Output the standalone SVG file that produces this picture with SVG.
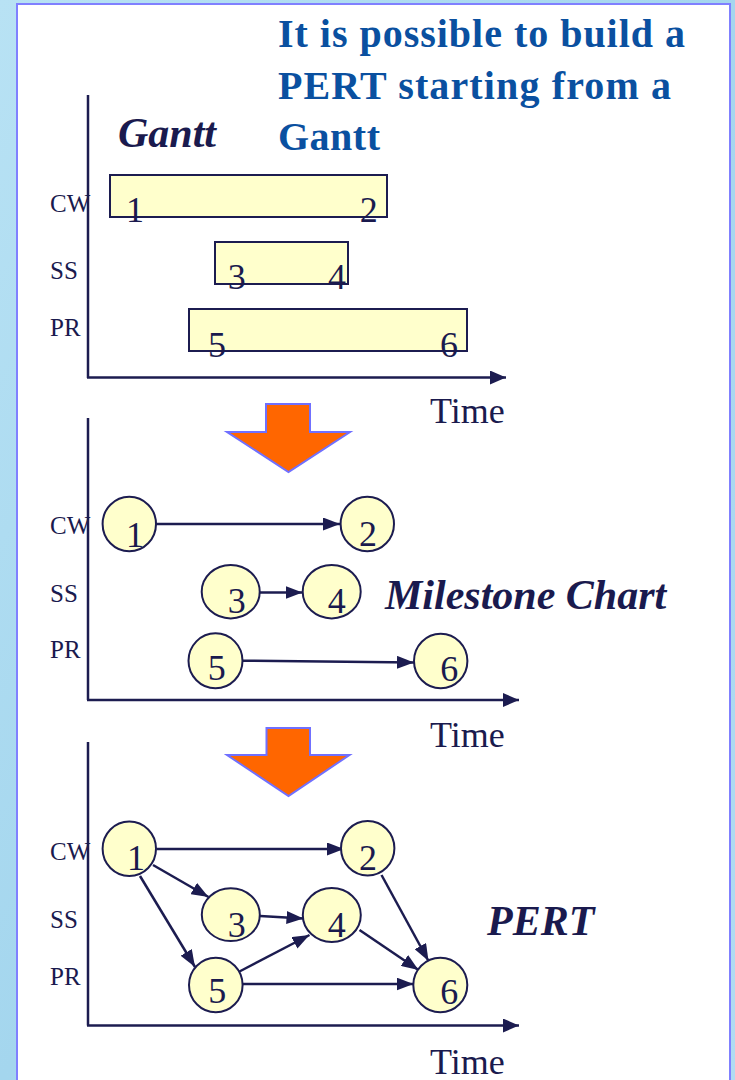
<svg xmlns="http://www.w3.org/2000/svg" width="735" height="1080" viewBox="0 0 735 1080">
<style>
.ax{stroke:#1c1c50;stroke-width:2.5;fill:none}
.cn{stroke:#1c1c50;stroke-width:2.5;fill:none}
.bar{fill:#ffffcc;stroke:#1c1c50;stroke-width:2}
.nd{fill:#ffffcc;stroke:#1c1c50;stroke-width:2}
.num{font-family:"Liberation Serif","Times New Roman",serif;font-size:36px;fill:#1a1a4e;text-anchor:middle}
.lane{font-family:"Liberation Serif","Times New Roman",serif;font-size:25px;fill:#1a1a4e}
.time{font-family:"Liberation Serif","Times New Roman",serif;font-size:36px;fill:#1a1a4e}
.lbl{font-family:"Liberation Serif","Times New Roman",serif;font-size:42px;font-weight:bold;font-style:italic;fill:#1a1a4e}
.title{font-family:"Liberation Serif","Times New Roman",serif;font-size:40px;font-weight:bold;fill:#0a50a0}
.big{fill:#ff6600;stroke:#7070ff;stroke-width:2}
</style>
<defs>
<linearGradient id="bg" x1="0" y1="0" x2="1" y2="1">
<stop offset="0" stop-color="#b8e2f4"/>
<stop offset="0.5" stop-color="#a4d6ee"/>
<stop offset="1" stop-color="#b0dcf2"/>
</linearGradient>
<marker id="ah" markerUnits="userSpaceOnUse" markerWidth="17" markerHeight="13" refX="17" refY="6.5" orient="auto">
<path d="M0,0 L17,6.5 L0,13 z" fill="#1c1c50"/>
</marker>
<marker id="axh" markerUnits="userSpaceOnUse" markerWidth="16" markerHeight="14" refX="16" refY="7" orient="auto">
<path d="M0,0 L16,7 L0,14 z" fill="#1c1c50"/>
</marker>
</defs>
<rect x="0" y="0" width="735" height="1080" fill="url(#bg)"/>
<rect x="17" y="4" width="713" height="1090" fill="#ffffff" stroke="#8080ff" stroke-width="2"/>

<g id="title">
<text class="title" x="278" y="47" textLength="407" lengthAdjust="spacing">It is possible to build a</text>
<text class="title" x="278" y="99" textLength="393" lengthAdjust="spacing">PERT starting from a</text>
<text class="title" x="278" y="150" textLength="102" lengthAdjust="spacing">Gantt</text>
</g>

<!-- Gantt section -->
<g id="gantt-axes">
<line class="ax" x1="88" y1="95" x2="88" y2="378"/>
<line class="ax" x1="87" y1="377.5" x2="506" y2="377.5" marker-end="url(#axh)"/>
<text class="time" x="430" y="423">Time</text>
<text class="lbl" x="118" y="147">Gantt</text>
<text class="lane" x="50" y="212">CW</text>
<text class="lane" x="50" y="279">SS</text>
<text class="lane" x="50" y="336">PR</text>
</g>
<g id="bar-cw">
<rect class="bar" x="110" y="175" width="277" height="42"/>
<text class="num" x="135" y="222">1</text>
<text class="num" x="368.7" y="222">2</text>
</g>
<g id="bar-ss">
<rect class="bar" x="215" y="242" width="133" height="42"/>
<text class="num" x="236.7" y="289">3</text>
<text class="num" x="337" y="289">4</text>
</g>
<g id="bar-pr">
<rect class="bar" x="189" y="309" width="278" height="42"/>
<text class="num" x="217" y="356.5">5</text>
<text class="num" x="449" y="356.5">6</text>
</g>

<g id="down-arrow-1">
<path class="big" d="M266,404 L310,404 L310,432 L350,432 L288.5,472 L227,432 L266,432 Z"/>
</g>

<!-- Milestone section -->
<g id="milestone-axes">
<line class="ax" x1="88" y1="418" x2="88" y2="700"/>
<line class="ax" x1="87" y1="700" x2="519" y2="700" marker-end="url(#axh)"/>
<text class="time" x="430" y="747">Time</text>
<text class="lbl" x="385" y="609">Milestone Chart</text>
<text class="lane" x="50" y="534">CW</text>
<text class="lane" x="50" y="602">SS</text>
<text class="lane" x="50" y="658">PR</text>
</g>
<g id="m-connectors">
<line class="cn" x1="156" y1="524" x2="340" y2="524" marker-end="url(#ah)"/>
<line class="cn" x1="260" y1="592.5" x2="302.5" y2="592.5" marker-end="url(#ah)"/>
<line class="cn" x1="242.5" y1="660.7" x2="414" y2="662.5" marker-end="url(#ah)"/>
</g>
<g id="m-node-1"><ellipse class="nd" cx="129.3" cy="524" rx="26.7" ry="27.3"/><text class="num" x="135" y="546.5">1</text></g>
<g id="m-node-2"><ellipse class="nd" cx="367.3" cy="524" rx="26.7" ry="27.3"/><text class="num" x="368" y="546">2</text></g>
<g id="m-node-3"><ellipse class="nd" cx="230.7" cy="591.7" rx="29" ry="26.7"/><text class="num" x="236.7" y="612.7">3</text></g>
<g id="m-node-4"><ellipse class="nd" cx="331.7" cy="591.7" rx="29" ry="26.7"/><text class="num" x="336.7" y="612.7">4</text></g>
<g id="m-node-5"><ellipse class="nd" cx="215.5" cy="660.8" rx="27" ry="27.5"/><text class="num" x="216.7" y="679.5">5</text></g>
<g id="m-node-6"><ellipse class="nd" cx="440.7" cy="661" rx="26.7" ry="27.3"/><text class="num" x="449.3" y="680.7">6</text></g>

<g id="down-arrow-2">
<path class="big" d="M266.5,728 L310,728 L310,755 L349.5,755 L288.5,796 L227,755 L266.5,755 Z"/>
</g>

<!-- PERT section -->
<g id="pert-axes">
<line class="ax" x1="88" y1="742" x2="88" y2="1025.5"/>
<line class="ax" x1="87" y1="1025.5" x2="519" y2="1025.5" marker-end="url(#axh)"/>
<text class="time" x="430" y="1074">Time</text>
<text class="lbl" x="487" y="935">PERT</text>
<text class="lane" x="50" y="860">CW</text>
<text class="lane" x="50" y="928">SS</text>
<text class="lane" x="50" y="985">PR</text>
</g>
<g id="p-connectors">
<line class="cn" x1="156.5" y1="849" x2="344" y2="849" marker-end="url(#ah)"/>
<line class="cn" x1="153" y1="865" x2="208.5" y2="897" marker-end="url(#ah)"/>
<line class="cn" x1="140" y1="876" x2="195" y2="967" marker-end="url(#ah)"/>
<line class="cn" x1="260" y1="916" x2="303.5" y2="918.5" marker-end="url(#ah)"/>
<line class="cn" x1="239.5" y1="971.5" x2="309.5" y2="935" marker-end="url(#ah)"/>
<line class="cn" x1="359.5" y1="930" x2="418.5" y2="970" marker-end="url(#ah)"/>
<line class="cn" x1="381.5" y1="875" x2="428.5" y2="961" marker-end="url(#ah)"/>
<line class="cn" x1="242.5" y1="984" x2="413.5" y2="984" marker-end="url(#ah)"/>
</g>
<g id="p-node-1"><ellipse class="nd" cx="129.3" cy="848.8" rx="26.7" ry="27.2"/><text class="num" x="136" y="870">1</text></g>
<g id="p-node-2"><ellipse class="nd" cx="367.7" cy="848.3" rx="26.7" ry="27.2"/><text class="num" x="368" y="870">2</text></g>
<g id="p-node-3"><ellipse class="nd" cx="230.8" cy="914.7" rx="29" ry="26.4"/><text class="num" x="236.7" y="937.3">3</text></g>
<g id="p-node-4"><ellipse class="nd" cx="331.8" cy="915" rx="29" ry="27"/><text class="num" x="336.7" y="937.3">4</text></g>
<g id="p-node-5"><ellipse class="nd" cx="215.8" cy="985" rx="26.8" ry="27.3"/><text class="num" x="217.3" y="1003.3">5</text></g>
<g id="p-node-6"><ellipse class="nd" cx="440.3" cy="985" rx="27" ry="27.3"/><text class="num" x="449.3" y="1004">6</text></g>
</svg>
